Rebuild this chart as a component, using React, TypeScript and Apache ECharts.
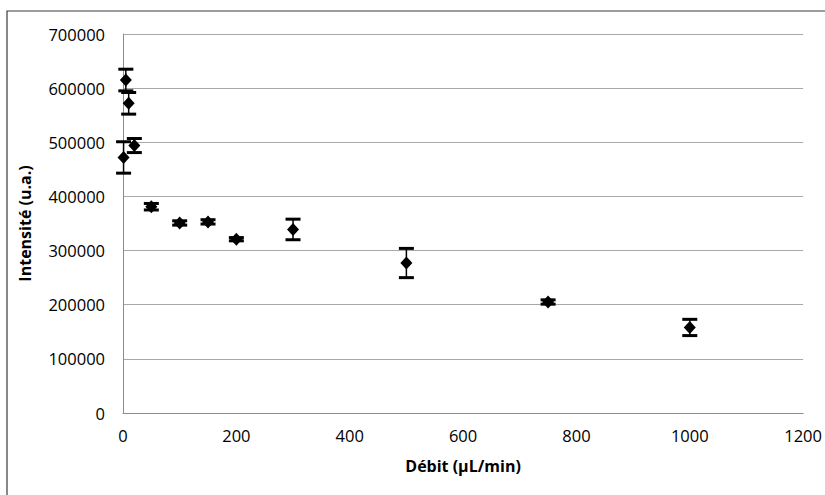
import React, { useEffect, useRef } from "react";
import * as echarts from "echarts";

const flowRates = [1, 5, 10, 20, 50, 100, 150, 200, 300, 500, 750, 1000];
const intensities = [472000, 615000, 572000, 494000, 381000, 351000, 353000, 321000, 339000, 277000, 205000, 158000];
const errors = [29000, 20000, 20000, 13000, 6000, 4000, 4000, 3000, 19000, 27000, 4000, 15000];

const xTicks = { min: 0, max: 1200, interval: 200 };
const yTicks = { min: 0, max: 700000, interval: 100000 };

const FONT = "'Open Sans', 'Noto Sans', sans-serif";

export default function App() {
  const ref = useRef<HTMLDivElement>(null);
  useEffect(() => {
    if (!ref.current) return;
    const chart = echarts.init(ref.current, undefined, { renderer: "svg" });
    const points = flowRates.map((x, i) => [x, intensities[i]]);
    const bars = flowRates.map((x, i) => [x, intensities[i] - errors[i], intensities[i] + errors[i]]);
    chart.setOption({
      animation: false,
      backgroundColor: "#ffffff",
      textStyle: { fontFamily: FONT },
      graphic: [
        {
          type: "rect",
          shape: { x: 7, y: 11, width: 840, height: 520 },
          style: { fill: "none", stroke: "#3a3a3a", lineWidth: 1.2 },
          silent: true,
        },
      ],
      grid: { left: 123, right: 6, top: 34, bottom: 82, containLabel: false },
      xAxis: {
        type: "value",
        min: xTicks.min,
        max: xTicks.max,
        interval: xTicks.interval,
        name: "Débit (µL/min)",
        nameLocation: "middle",
        nameGap: 45,
        nameTextStyle: { fontFamily: FONT, fontSize: 16, fontWeight: "bold", color: "#000" },
        axisLine: { show: true, onZero: false, lineStyle: { color: "#8c8c8c", width: 1 } },
        axisTick: { show: false },
        axisLabel: { fontFamily: FONT, fontSize: 16.5, color: "#000", margin: 14, formatter: (v: number) => String(v) },
        splitLine: { show: false },
      },
      yAxis: {
        type: "value",
        min: yTicks.min,
        max: yTicks.max,
        interval: yTicks.interval,
        name: "Intensité (u.a.)",
        nameLocation: "middle",
        nameGap: 90,
        nameTextStyle: { fontFamily: FONT, fontSize: 16, fontWeight: "bold", color: "#000" },
        axisLine: { show: true, lineStyle: { color: "#8c8c8c", width: 1 } },
        axisTick: { show: false },
        axisLabel: { fontFamily: FONT, fontSize: 16.5, color: "#000", margin: 18, formatter: (v: number) => String(v) },
        splitLine: { show: true, lineStyle: { color: "#a8a8a8", width: 1 } },
      },
      series: [
        {
          type: "custom",
          name: "error",
          data: bars,
          encode: { x: 0, y: [1, 2] },
          z: 3,
          renderItem: (params: any, api: any) => {
            const x = api.value(0);
            const lo = api.coord([x, api.value(1)]);
            const hi = api.coord([x, api.value(2)]);
            const w = 7.5;
            return {
              type: "group",
              children: [
                { type: "line", shape: { x1: hi[0], y1: hi[1], x2: lo[0], y2: lo[1] }, style: { stroke: "#000", lineWidth: 1.5 } },
                { type: "line", shape: { x1: hi[0] - w, y1: hi[1], x2: hi[0] + w, y2: hi[1] }, style: { stroke: "#000", lineWidth: 3 } },
                { type: "line", shape: { x1: lo[0] - w, y1: lo[1], x2: lo[0] + w, y2: lo[1] }, style: { stroke: "#000", lineWidth: 3 } },
              ],
            };
          },
        },
        {
          type: "scatter",
          name: "Intensité",
          data: points,
          symbol: "diamond",
          symbolSize: [12, 13],
          itemStyle: { color: "#000", opacity: 1 },
          z: 4,
        },
      ],
    });
    return () => chart.dispose();
  }, []);
  return <div ref={ref} style={{ position: "fixed", left: 0, top: 0, width: 825, height: 495 }} />;
}
